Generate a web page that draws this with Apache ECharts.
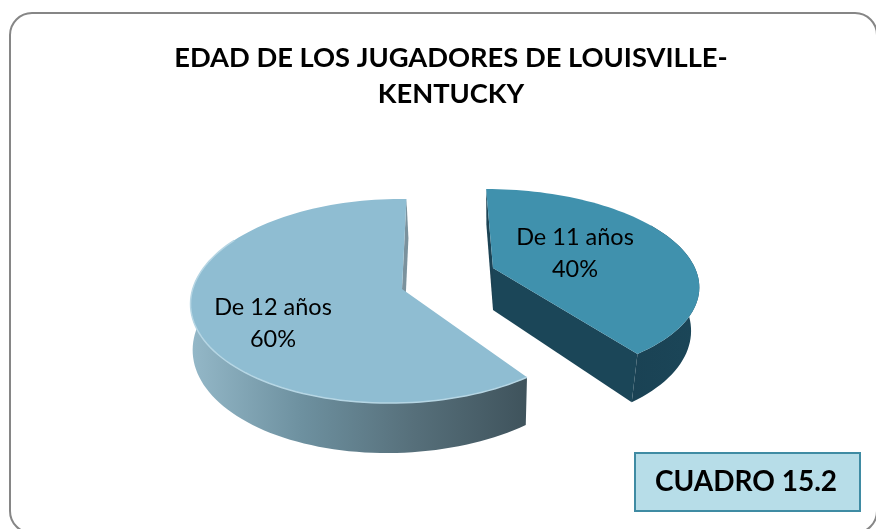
<!DOCTYPE html>
<html>
<head>
<meta charset="utf-8">
<style>
  html, body { margin: 0; padding: 0; background: #fff; }
  #chart { width: 876px; height: 529px; }
</style>
</head>
<body>
<div id="chart"></div>
<script src="https://cdn.jsdelivr.net/npm/echarts@6/dist/echarts.min.js"></script>
<script>
const titleText = 'EDAD DE LOS JUGADORES DE LOUISVILLE-\nKENTUCKY'
const boxText = 'CUADRO 15.2'
const categories = ['De 11 años', 'De 12 años']
const values = [40, 60]

// how each exploded wedge is projected (ax/ay = tip of the wedge, k/m = perspective, t = shear)
const views = [
  { ax: 493, ay: 268, r: 202, s: 92, k: 0.165, m: 0, t: 8, depth: 42, shrink: 0.96, spineLean: 0,
    top: '#4091ad', label: [575, 253], wallFrom: 60, rim: null,
    spine: '#1c4354', cut: '#1b4658',
    wall: ['#1b4658', '#1a4254'] },
  { ax: 402, ay: 289, r: 203, s: 100.6, k: 0.118, m: 0.03, t: -5, depth: 44, shrink: 0.99, spineLean: 2,
    top: '#8fbdd2', label: [273, 323], wallFrom: 0, rim: '#b6d6e4',
    spine: '#7b929d', cut: null,
    wall: ['#94b8c8', '#6d909f', '#566f7a', '#3f535c'] }
]

const total = values.reduce((a, b) => a + b, 0)

function project(v, deg, down) {
  const th = deg * Math.PI / 180
  return projectXY(v, Math.sin(th), -Math.cos(th), down)
}

function projectXY(v, x, y, down) {
  const w = 1 - v.k * y + v.m * x
  const px = (v.r * x + v.t * y) / w
  return [
    v.ax + (down ? px * v.shrink : px),
    v.ay + v.s * y / w + (down ? v.depth / w : 0)
  ]
}

function arc(v, from, to, down) {
  const pts = []
  const n = Math.ceil(Math.abs(to - from) / 2)
  for (let i = 0; i <= n; i++) {
    pts.push(project(v, from + (to - from) * i / n, down))
  }
  return pts
}

function poly(points, fill, z2) {
  return { type: 'polygon', shape: { points }, style: { fill }, z2 }
}

function renderSlice(params, api) {
  const i = params.dataIndex
  const v = views[i]
  let from = 0
  for (let j = 0; j < i; j++) from += values[j] / total * 360
  const to = from + api.value(0) / total * 360
  const kids = []

  // flat cut walls: only a sliver of them shows behind the top face
  const a0 = projectXY(v, 0, 0, false)
  const a1 = projectXY(v, 0, 0, true)
  const s0 = project(v, i === 0 ? from : to, false)
  const s1 = project(v, i === 0 ? from : to, true)
  kids.push(poly([s0, a0, [a1[0] + v.spineLean, a1[1]], [s1[0] + v.spineLean, s1[1]]], v.spine, 1))
  if (v.cut) {
    const c0 = project(v, to, false)
    const c1 = project(v, to, true)
    kids.push(poly([a0, c0, c1, a1], v.cut, 2))
  }

  // outer wall
  const wallStart = i === 0 ? Math.max(from, v.wallFrom) : from
  const wallEnd = i === 0 ? to : 300
  const band = arc(v, wallStart, wallEnd, false).concat(arc(v, wallEnd, wallStart, true))
  const xs = band.map(p => p[0])
  const lo = Math.min.apply(null, xs)
  const hi = Math.max.apply(null, xs)
  const stops = v.wall.map((color, n) => ({ offset: n / (v.wall.length - 1), color }))
  const grad = new echarts.graphic.LinearGradient(i === 0 ? hi : lo, 0, i === 0 ? lo : hi, 0, stops, true)
  kids.push(poly(band, grad, 3))

  // top face
  const face = [a0].concat(arc(v, from, to, false))
  kids.push(poly(face, v.top, 4))
  if (v.rim) {
    kids.push({
      type: 'polyline',
      z2: 5,
      shape: { points: arc(v, from, 300, false) },
      style: { fill: null, stroke: v.rim, lineWidth: 1.5 }
    })
  }

  // label
  kids.push({
    type: 'text',
    z2: 6,
    style: {
      x: v.label[0],
      y: v.label[1],
      text: api.value(1) + '\n' + api.value(0) + '%',
      fill: '#000',
      font: '23.5px Lato',
      lineHeight: 32,
      align: 'center',
      verticalAlign: 'middle'
    }
  })
  return { type: 'group', children: kids }
}

const chart = echarts.init(document.getElementById('chart'), null, { renderer: 'canvas' })

chart.setOption({
  backgroundColor: '#fff',
  animation: false,
  title: {
    text: titleText,
    left: 446,
    top: 35,
    textAlign: 'center',
    textStyle: {
      fontFamily: 'Lato',
      fontSize: 27.3,
      fontWeight: 'bold',
      color: '#000',
      lineHeight: 36
    }
  },
  graphic: [
    {
      type: 'rect',
      shape: { x: 10, y: 13, width: 867, height: 520, r: 22 },
      style: { fill: '#fff', stroke: '#868686', lineWidth: 2 },
      z: -1
    },
    {
      type: 'rect',
      shape: { x: 635, y: 453, width: 225, height: 58 },
      style: { fill: '#b7dde8', stroke: '#3f8ba3', lineWidth: 2 }
    },
    {
      type: 'text',
      style: {
        x: 746,
        y: 482,
        text: boxText,
        font: 'bold 28px Lato',
        fill: '#000',
        align: 'center',
        verticalAlign: 'middle'
      }
    }
  ],
  series: [
    {
      type: 'custom',
      coordinateSystem: 'none',
      renderItem: renderSlice,
      data: values.map((val, i) => [val, categories[i]])
    }
  ]
})
</script>
</body>
</html>
